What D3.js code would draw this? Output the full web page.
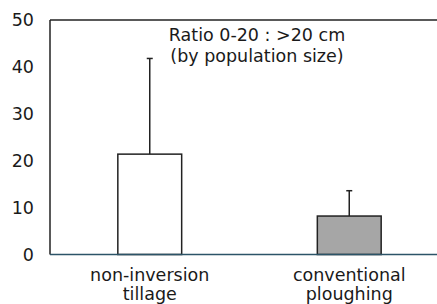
<!DOCTYPE html>
<html>
<head>
<meta charset="utf-8">
<script src="https://cdn.jsdelivr.net/npm/d3@7"></script>
<style>
body { margin: 0; background: #fff; }
text { font-family: "DejaVu Sans", Verdana, sans-serif; fill: #1a1a1a; }
</style>
</head>
<body>
<script>
var width = 437;
var height = 304;

var categories = [["non-inversion", "tillage"], ["conventional", "ploughing"]];
var values = [21.4, 8.2];
var errors = [20.4, 5.4];
var fills = ["#ffffff", "#a6a6a6"];
var yTicks = [0, 10, 20, 30, 40, 50];
var titleLines = ["Ratio 0-20 : >20 cm", "(by population size)"];

var plotLeft = 50, plotTop = 20, plotRight = 449, plotBottom = 254.5;
var fontSize = 17.5;

var svg = d3.select("body").append("svg")
  .attr("width", width)
  .attr("height", height);

var x = d3.scaleBand()
  .domain(d3.range(values.length))
  .range([plotLeft, plotRight])
  .paddingInner(0.68)
  .paddingOuter(0.34);

var y = d3.scaleLinear().domain([0, 50]).range([plotBottom, plotTop]);

// frame: top and left
svg.append("line")
  .attr("x1", plotLeft).attr("x2", plotRight)
  .attr("y1", y(50)).attr("y2", y(50))
  .attr("stroke", "#222").attr("stroke-width", 1.5);
svg.append("line")
  .attr("x1", plotLeft).attr("x2", plotLeft)
  .attr("y1", y(50)).attr("y2", y(0))
  .attr("stroke", "#222").attr("stroke-width", 1.5);

// y tick labels
svg.selectAll(".ytick").data(yTicks).enter().append("text")
  .attr("class", "ytick")
  .attr("x", 34)
  .attr("y", function(d){ return y(d); })
  .attr("dy", "0.35em")
  .attr("text-anchor", "end")
  .attr("font-size", fontSize)
  .text(function(d){ return d; });

// error bars
svg.selectAll(".err").data(values).enter().append("line")
  .attr("x1", function(d, i){ return x(i) + x.bandwidth()/2; })
  .attr("x2", function(d, i){ return x(i) + x.bandwidth()/2; })
  .attr("y1", function(d){ return y(d); })
  .attr("y2", function(d, i){ return y(d + errors[i]); })
  .attr("stroke", "#222").attr("stroke-width", 1.5);
svg.selectAll(".cap").data(values).enter().append("line")
  .attr("x1", function(d, i){ return x(i) + x.bandwidth()/2 - 3; })
  .attr("x2", function(d, i){ return x(i) + x.bandwidth()/2 + 3; })
  .attr("y1", function(d, i){ return y(d + errors[i]); })
  .attr("y2", function(d, i){ return y(d + errors[i]); })
  .attr("stroke", "#222").attr("stroke-width", 1.5);

// bars
svg.selectAll(".bar").data(values).enter().append("rect")
  .attr("x", function(d, i){ return x(i); })
  .attr("y", function(d){ return y(d); })
  .attr("width", x.bandwidth())
  .attr("height", function(d){ return y(0) - y(d); })
  .attr("fill", function(d, i){ return fills[i]; })
  .attr("stroke", "#222").attr("stroke-width", 1.5);

// baseline
svg.append("line")
  .attr("x1", plotLeft).attr("x2", plotRight)
  .attr("y1", y(0)).attr("y2", y(0))
  .attr("stroke", "#2c5468").attr("stroke-width", 1.5);

// category labels
categories.forEach(function(c, i){
  var t = svg.append("text")
    .attr("text-anchor", "middle")
    .attr("font-size", fontSize);
  c.forEach(function(line, j){
    t.append("tspan")
      .attr("x", x(i) + x.bandwidth()/2)
      .attr("y", 281 + j*18.5)
      .text(line);
  });
});

// title
var title = svg.append("text")
  .attr("text-anchor", "middle")
  .attr("font-size", fontSize);
titleLines.forEach(function(line, j){
  title.append("tspan")
    .attr("x", 257)
    .attr("y", 41 + j*21)
    .text(line);
});
</script>
</body>
</html>
